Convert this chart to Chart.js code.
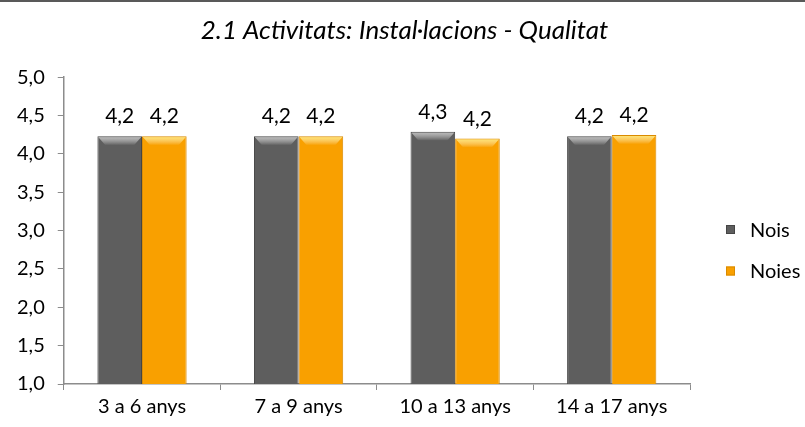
<!DOCTYPE html>
<html><head><meta charset="utf-8">
<script src="https://cdn.jsdelivr.net/npm/chart.js@4/dist/chart.umd.min.js"></script>
<style>
html,body{margin:0;padding:0;background:#fff;}
#wrap{position:relative;width:805px;height:427px;box-sizing:border-box;border-top:2px solid #595959;}
</style></head>
<body><div id="wrap"><canvas id="c" width="805" height="425"></canvas></div>
<script>
const categories = ["3 a 6 anys", "7 a 9 anys", "10 a 13 anys", "14 a 17 anys"];
const nois = [4.23, 4.23, 4.29, 4.23];
const noies = [4.23, 4.23, 4.20, 4.245];
const seriesNames = ["Nois", "Noies"];
const seriesColors = ["#5e5e5e", "#f9a000"];
const yTicks = [1.0, 1.5, 2.0, 2.5, 3.0, 3.5, 4.0, 4.5, 5.0];

const FONT = "Lato, 'Open Sans', sans-serif";
const fmt = v => v.toFixed(1).replace('.', ',');

function barFill(base, light, dark) {
  return function(ctx) {
    const el = ctx.element;
    const chart = ctx.chart;
    if (!el || el.width === undefined || !isFinite(el.x)) return base;
    const x0 = el.x - el.width / 2, x1 = el.x + el.width / 2;
    const g = chart.ctx.createLinearGradient(x0, 0, x1, 0);
    g.addColorStop(0, dark);
    g.addColorStop(0.08, base);
    g.addColorStop(0.5, light);
    g.addColorStop(0.92, base);
    g.addColorStop(1, dark);
    return g;
  };
}

const bevel = {
  id: 'bevel',
  afterDatasetsDraw(chart) {
    const c = chart.ctx;
    chart.data.datasets.forEach((ds, i) => {
      const meta = chart.getDatasetMeta(i);
      meta.data.forEach(b => {
        const x0 = b.x - b.width / 2, w = b.width, y = b.y;
        const g = c.createLinearGradient(0, y, 0, y + 9);
        g.addColorStop(0, i === 0 ? 'rgba(200,200,200,0.9)' : 'rgba(255,235,120,0.95)');
        g.addColorStop(1, 'rgba(255,255,255,0)');
        c.save();
        c.fillStyle = g;
        c.beginPath();
        c.moveTo(x0 + 1, y + 1);
        c.lineTo(x0 + w - 1, y + 1);
        c.lineTo(x0 + w - 8, y + 9);
        c.lineTo(x0 + 8, y + 9);
        c.closePath();
        c.fill();
        c.restore();
      });
    });
  }
};

const labelsPlugin = {
  id: 'valLabels',
  afterDatasetsDraw(chart) {
    const c = chart.ctx;
    c.save();
    c.font = "21px " + FONT;
    c.fillStyle = '#000';
    c.textAlign = 'center';
    c.textBaseline = 'alphabetic';
    chart.data.datasets.forEach((ds, i) => {
      const meta = chart.getDatasetMeta(i);
      meta.data.forEach((b, j) => {
        c.fillText(fmt(ds.data[j]), b.x, b.y - 13);
      });
    });
    c.restore();
  }
};

const sideLegend = {
  id: 'sideLegend',
  afterDraw(chart) {
    const c = chart.ctx;
    const area = chart.chartArea;
    const bx = area.right + 36;
    const cy0 = 227.5, step = 41.5;
    c.save();
    c.font = "20px " + FONT;
    c.textBaseline = 'middle';
    c.textAlign = 'left';
    chart.data.datasets.forEach((ds, i) => {
      const cy = cy0 + i * step;
      c.fillStyle = seriesColors[i];
      c.fillRect(bx, cy - 4.5, 9, 9);
      c.strokeStyle = i === 0 ? '#454545' : '#d98a00';
      c.lineWidth = 1;
      c.strokeRect(bx + 0.5, cy - 4, 8, 8);
      c.fillStyle = '#000';
      c.fillText(ds.label, bx + 24, cy + 1);
    });
    c.restore();
  }
};

new Chart(document.getElementById('c'), {
  type: 'bar',
  data: {
    labels: categories,
    datasets: [
      { label: seriesNames[0], data: nois,
        backgroundColor: barFill(seriesColors[0], '#666666', '#3c3c3c'),
        borderColor: '#454545', borderWidth: 1 },
      { label: seriesNames[1], data: noies,
        backgroundColor: barFill(seriesColors[1], '#ffa800', '#d88400'),
        borderColor: '#d98a00', borderWidth: 1 }
    ]
  },
  options: {
    responsive: false,
    animation: false,
    layout: { padding: { left: 4, right: 0, top: 0, bottom: 3 } },
    datasets: { bar: { categoryPercentage: 0.57, barPercentage: 1.0 } },
    plugins: {
      title: { display: true, text: '2.1 Activitats: Instal·lacions - Qualitat',
        color: '#000', font: { family: FONT, size: 26, style: 'italic', weight: 'normal' },
        padding: { top: 13, bottom: 31 } },
      legend: { display: false },
      tooltip: { enabled: false }
    },
    scales: {
      x: {
        grid: { display: true, drawOnChartArea: false, offset: true, tickLength: 6, color: '#8c8c8c' },
        border: { color: '#8c8c8c', width: 1.5 },
        ticks: { color: '#000', font: { family: FONT, size: 20 }, padding: 5 }
      },
      y: {
        min: 1, max: 5,
        afterBuildTicks(axis) { axis.ticks = yTicks.map(v => ({ value: v })); },
        grid: { display: true, drawOnChartArea: false, tickLength: 6, color: '#8c8c8c' },
        border: { color: '#8c8c8c', width: 1.5 },
        ticks: { color: '#000', font: { family: FONT, size: 20 }, padding: 13, callback: v => fmt(v) }
      },
      legendSpace: {
        type: 'linear', position: 'right', display: true,
        grid: { display: false, drawTicks: false }, border: { display: false },
        ticks: { display: false },
        afterFit(scale) { scale.width = 115; }
      }
    }
  },
  plugins: [bevel, labelsPlugin, sideLegend]
});
</script></body></html>
